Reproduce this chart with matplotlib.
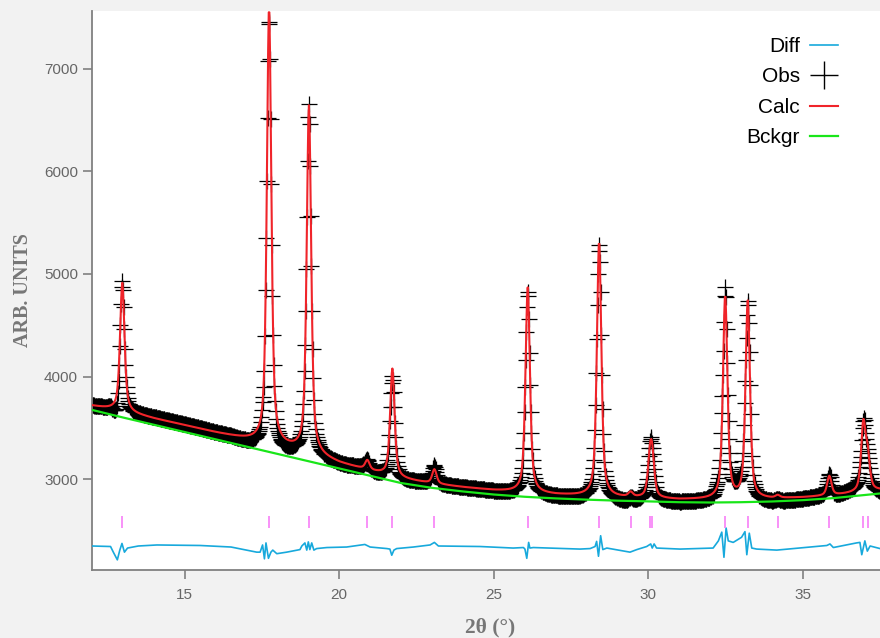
import numpy as np
import matplotlib
matplotlib.use("Agg")
import matplotlib.pyplot as plt
from matplotlib.lines import Line2D

# --- background knots (2theta, counts) ---
bkg_x = [12, 13, 14, 15, 16, 17, 18, 19, 20, 21, 22, 23, 24, 25,
         26, 27, 28, 29, 30, 31, 32, 33, 34, 35, 36, 37, 38]
bkg_y = [3675, 3601, 3530, 3459, 3388, 3317, 3246, 3175, 3104, 3033, 2962, 2915, 2880, 2850,
         2828, 2812, 2800, 2790, 2783, 2775, 2772, 2775, 2782, 2795, 2815, 2845, 2875]
# calc sits a little above the background between peaks
excess_y = [40, 60, 60, 65, 65, 70, 80, 80, 50, 45, 40, 40, 40, 40,
            40, 35, 35, 30, 30, 25, 30, 30, 25, 25, 25, 30, 30]

# --- reflections: positions and peak heights above base ---
refl_pos = [12.98, 17.73, 19.02, 20.91, 21.72, 23.08, 26.10, 28.41, 29.43,
            30.06, 30.13, 32.49, 33.22, 34.19, 35.86, 36.96, 37.10]
refl_h = [1250, 4250, 3380, 90, 1050, 140, 2000, 2490, 45,
          340, 320, 1980, 1920, 25, 190, 640, 320]
fwhm = 0.17
eta = 0.6

# --- difference curve key points (2theta, obs - calc) ---
diff_x = [12.0, 12.6, 12.69, 12.82, 12.90, 12.97, 13.05, 13.15, 13.5, 14.1, 15.5, 16.5,
          17.33, 17.44, 17.52, 17.58, 17.63, 17.71, 17.79, 17.85, 17.98, 18.30,
          18.73, 18.79, 18.89, 18.95, 19.00, 19.05, 19.11, 19.18, 19.27, 19.60,
          20.24, 20.83, 21.00, 21.54, 21.64, 21.70, 21.77, 21.86, 22.40, 22.94,
          23.08, 23.21, 24.56, 25.63, 25.96, 26.01, 26.07, 26.13, 26.17, 26.28,
          27.79, 28.12, 28.28, 28.33, 28.39, 28.46, 28.53, 28.66, 29.41, 29.63,
          29.95, 30.08, 30.13, 30.19, 30.27, 31.03, 32.10, 32.27, 32.38, 32.45,
          32.52, 32.59, 32.75, 33.02, 33.13, 33.19, 33.27, 33.35, 33.51, 34.16,
          35.78, 35.88, 35.99, 36.74, 36.85, 36.91, 37.01, 37.09, 37.18, 37.5]
diff_y = [0, -5, -60, -135, -40, 25, -60, -20, 0, 10, 5, -10,
          -60, -60, 10, -125, 30, -120, -60, -40, -75, -60,
          -35, 0, 30, -40, 40, -35, 30, -40, -25, -15,
          -10, 15, -10, -25, -30, -90, -40, -25, -10, 10,
          35, 0, -5, -20, -15, -30, -120, 35, -20, -15,
          -30, -25, -5, 45, -100, 100, -35, -20, -60, -35,
          -5, 20, -20, 20, -20, -30, -20, 50, 135, -110,
          175, 50, 35, 85, 140, -85, 125, -20, -30, -40,
          5, 20, -15, 30, 35, -85, 50, -50, 0, -25]
diff_offset = 2348
tick_level = 2580

step = 0.02
tt = np.arange(11.9, 37.8, step)

def pv(x, x0, h):
    w = fwhm / 2.0
    lor = 1.0 / (1.0 + ((x - x0) / w) ** 2)
    gau = np.exp(-np.log(2) * ((x - x0) / w) ** 2)
    return h * (eta * lor + (1 - eta) * gau)

bkg = np.interp(tt, bkg_x, bkg_y)
base = bkg + np.interp(tt, bkg_x, excess_y)
calc = base.copy()
for p, h in zip(refl_pos, refl_h):
    calc += pv(tt, p, h)
obs = calc + np.interp(tt, diff_x, diff_y)

fig = plt.figure(figsize=(8.8, 6.38), dpi=100, facecolor="#f2f2f2")
ax = fig.add_axes([92 / 880, 1 - 570 / 638, 1 - 92 / 880, (570 - 11) / 638])
ax.set_facecolor("white")

ax.plot(tt, obs, linestyle="none", marker="+", markersize=11, markeredgewidth=0.9,
        color="black", zorder=2)
ax.plot(tt, calc, color="#f0242a", lw=1.5, zorder=3)
ax.plot(bkg_x, bkg_y, color="#19e619", lw=1.6, zorder=4)
ax.plot(diff_x, np.array(diff_y) + diff_offset, color="#17a9dc", lw=1.2, zorder=3)
ax.plot(refl_pos, [tick_level] * len(refl_pos), linestyle="none", marker="|",
        markersize=9, markeredgewidth=1.2, color="#f77ff7", zorder=3)

ax.set_xlim(12, 37.5)
ax.set_ylim(2114, 7564)
ax.set_xticks([15, 20, 25, 30, 35])
ax.set_yticks([3000, 4000, 5000, 6000, 7000])

for s in ["top", "right"]:
    ax.spines[s].set_visible(False)
for s in ["left", "bottom"]:
    ax.spines[s].set_color("#808080")
    ax.spines[s].set_linewidth(1.3)
ax.tick_params(direction="out", length=6.5, width=1.2, color="#808080",
               labelcolor="#666666", labelsize=11)
ax.tick_params(axis="x", pad=6.5)
ax.tick_params(axis="y", pad=3.6)
for lab in ax.get_xticklabels() + ax.get_yticklabels():
    lab.set_family("Liberation Sans")

ax.set_ylabel("ARB. UNITS", family="Liberation Serif", fontweight="bold",
              fontsize=14.5, color="#777777", va="center")
ax.set_xlabel("2θ (°)", family="Liberation Serif", fontweight="bold",
              fontsize=15.5, color="#777777", va="center")
ax.yaxis.set_label_coords((23 - 92) / 788, 0.5)
ax.xaxis.set_label_coords((490 - 92) / 788, (570 - 627) / 559)

handles = [
    Line2D([], [], color="#17a9dc", lw=1.2),
    Line2D([], [], color="black", linestyle="none", marker="+", markersize=20, markeredgewidth=1.0),
    Line2D([], [], color="#f0242a", lw=1.5),
    Line2D([], [], color="#19e619", lw=1.6),
]
leg = ax.legend(handles, ["Diff", "Obs", "Calc", "Bckgr"], loc="upper right",
                bbox_to_anchor=((838 - 92) / 788, (570 - 37) / 559), frameon=False,
                markerfirst=False, handlelength=1.35, labelspacing=0.55,
                handletextpad=0.48, borderaxespad=0, borderpad=0,
                prop={"family": "Liberation Sans", "size": 15})

fig.savefig("out.png", dpi=100, facecolor=fig.get_facecolor())
